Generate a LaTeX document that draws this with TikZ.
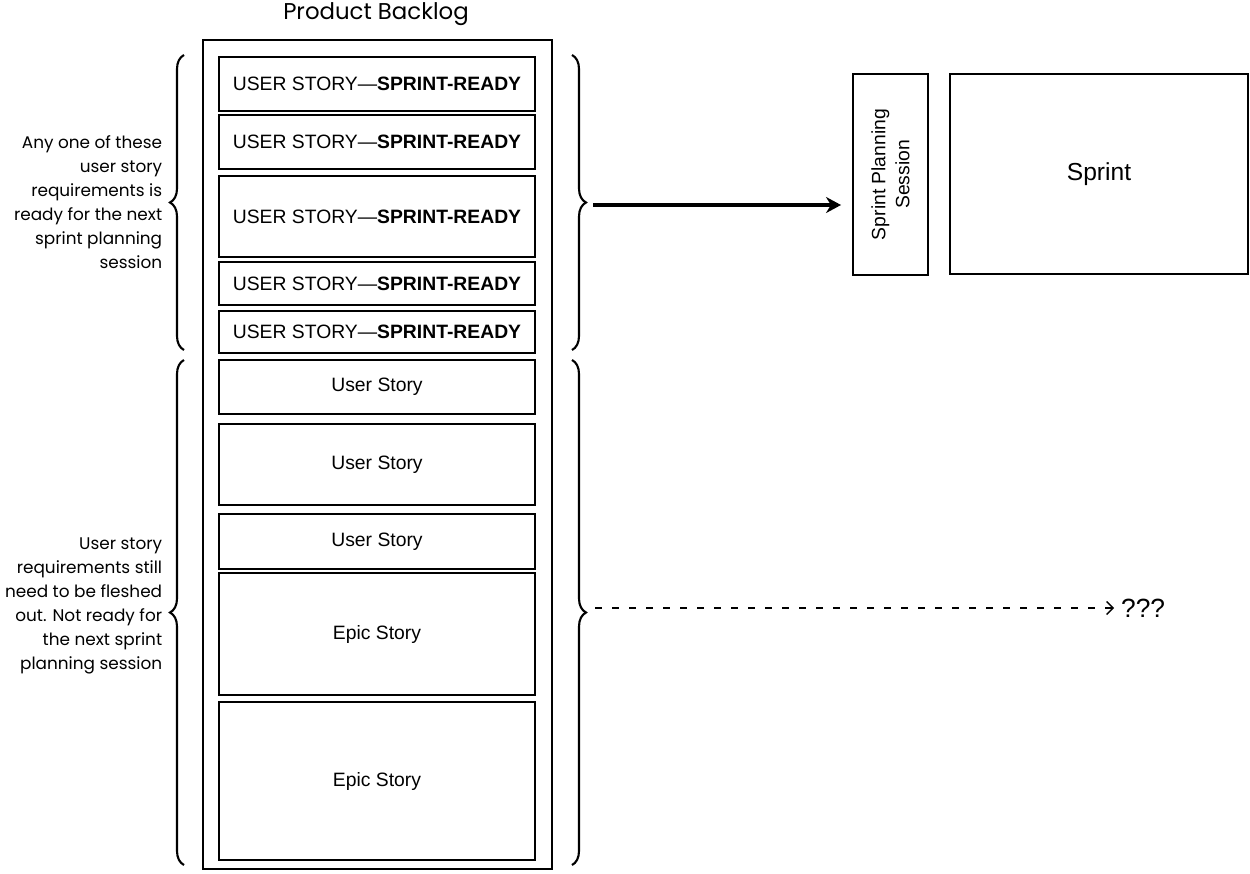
\documentclass[tikz,border=0pt]{standalone}
\usepackage{fontspec}
\setmainfont{Liberation Sans}
\newfontfamily\handfont{Poppins}
\usetikzlibrary{positioning,arrows.meta,decorations.pathreplacing}
\tikzset{
  storybox/.style={draw, line width=1.1pt, minimum width=6.32cm, inner sep=0pt,
    font=\fontsize{11}{13}\selectfont, fill=white},
  stagebox/.style={draw, line width=1.1pt, inner sep=0pt},
  notelabel/.style={font=\handfont\fontsize{9.6}{13.6}\selectfont, align=right, anchor=east, inner sep=0pt},
  storybrace/.style={decorate, decoration={brace, amplitude=0.28cm}, line width=1.2pt},
  flowarrow/.style={-{Stealth[length=3mm, width=3.2mm]}, line width=2.2pt},
  lazyarrow/.style={-{Straight Barb[length=1.3mm, width=2.6mm]}, line width=0.8pt,
    dash pattern=on 0.14cm off 0.2cm},
}

\begin{document}
\begin{tikzpicture}
  \useasboundingbox (0,0) rectangle (25,-17.46);
  % backlog
  \node[font=\handfont\fontsize{13}{15}\selectfont] (title) at (7.52,-0.28) {Product Backlog};
  \node[stagebox, minimum width=6.98cm, minimum height=16.58cm] (backlog) at (7.55,-9.09) {};
  \node[storybox, minimum height=1.08cm] (ready1) at (7.54,-1.68) {USER STORY—\textbf{SPRINT-READY}};
  \node[storybox, minimum height=1.08cm] (ready2) at (7.54,-2.84) {USER STORY—\textbf{SPRINT-READY}};
  \node[storybox, minimum height=1.62cm] (ready3) at (7.54,-4.33) {USER STORY—\textbf{SPRINT-READY}};
  \node[storybox, minimum height=0.86cm] (ready4) at (7.54,-5.67) {USER STORY—\textbf{SPRINT-READY}};
  \node[storybox, minimum height=0.84cm] (ready5) at (7.54,-6.64) {USER STORY—\textbf{SPRINT-READY}};
  \node[storybox, minimum height=1.08cm] (story1) at (7.54,-7.74) {User Story};
  \node[storybox, minimum height=1.62cm] (story2) at (7.54,-9.29) {User Story};
  \node[storybox, minimum height=1.10cm] (story3) at (7.54,-10.83) {User Story};
  \node[storybox, minimum height=2.44cm] (epic1) at (7.54,-12.68) {Epic Story};
  \node[storybox, minimum height=3.16cm] (epic2) at (7.54,-15.62) {Epic Story};
  % braces and notes
  \draw[storybrace] (3.68,-7.00) -- (3.68,-1.10);
  \draw[storybrace] (3.68,-17.30) -- (3.68,-7.20);
  \draw[storybrace] (11.44,-1.10) -- (11.44,-7.00);
  \draw[storybrace] (11.44,-7.20) -- (11.44,-17.30);
  \node[notelabel] (readynote) at (3.25,-4.04) {Any one of these\\user story\\requirements is\\ready for the next\\sprint planning\\session};
  \node[notelabel] (todonote) at (3.25,-12.12) {User story\\requirements still\\need to be fleshed\\out. Not ready for\\the next sprint\\planning session};
  % sprint
  \node[stagebox, minimum width=1.5cm, minimum height=4.02cm] (plan) at (17.81,-3.49) {};
  \node[rotate=90, align=center, font=\fontsize{11}{13.6}\selectfont] (plantext) at (plan.center) {Sprint Planning\\Session};
  \node[stagebox, minimum width=5.96cm, minimum height=4.0cm, font=\fontsize{14}{16}\selectfont] (sprint) at (21.98,-3.48) {Sprint};
  \node[font=\fontsize{15}{17}\selectfont, anchor=west, inner sep=1pt] (unknown) at (22.38,-12.16) {???};
  \coordinate (readytip) at (11.86,-4.10);
  \coordinate (todotip) at (11.90,-12.16);
  \draw[flowarrow, shorten >=0.22cm] (readytip) -- (readytip -| plan.west);
  \draw[lazyarrow, shorten >=0.1cm] (todotip) -- (unknown.west);
\end{tikzpicture}
\end{document}
